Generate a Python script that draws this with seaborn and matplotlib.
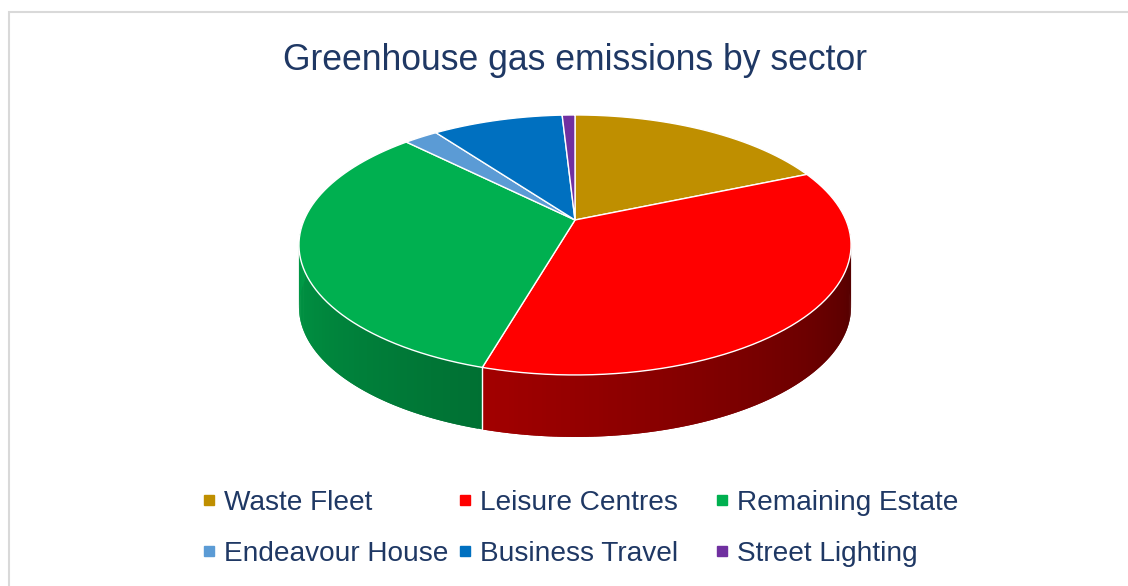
import numpy as np
import matplotlib.pyplot as plt
import seaborn as sns
from matplotlib.collections import PolyCollection
from matplotlib.lines import Line2D
from matplotlib.patches import Rectangle
from matplotlib.path import Path
from matplotlib.transforms import Transform, Affine2D

sectors = ['Waste Fleet', 'Leisure Centres', 'Remaining Estate',
           'Endeavour House', 'Business Travel', 'Street Lighting']
share = [18.6, 35.9, 33.0, 2.4, 9.2, 0.9]
colours = ['#BF8F00', '#FF0000', '#00B050', '#5B9BD5', '#0070C0', '#7030A0']

sns.set_theme(style='white')
plt.rcParams['font.family'] = ['Liberation Sans', 'DejaVu Sans']
navy = '#1F3864'
pal = sns.color_palette(colours)


class Tilt(Transform):
    """Perspective view of the unit disk (pie top seen from above-front)."""
    input_dims = output_dims = 2

    def __init__(self, sx, sy, k):
        super().__init__()
        self.sx, self.sy, self.k = sx, sy, k

    def transform_non_affine(self, xy):
        xy = np.asarray(xy, float).reshape(-1, 2)
        w = 1 + self.k * xy[:, 1]
        return np.column_stack([self.sx * xy[:, 0] / w, self.sy * xy[:, 1] / w])

    def transform_path_non_affine(self, path):
        big = Affine2D().scale(1000).transform_path(path)
        verts = np.vstack(big.to_polygons(closed_only=False)) / 1000
        return Path(self.transform_non_affine(verts))


fig = plt.figure(figsize=(11.28, 5.86), dpi=100)
ax = fig.add_axes([0, 0, 1, 1])
tilt = Tilt(270.9, 125.2, 0.192)
depth = 62

fracs = np.array(share) / sum(share)
bounds = 90 - 360 * np.concatenate([[0], np.cumsum(fracs)])

# side wall, shaded by the direction it faces
polys, faces = [], []
for i, c in enumerate(pal):
    th = np.radians(np.linspace(bounds[i], bounds[i + 1], 160))
    for j in range(len(th) - 1):
        m = np.degrees((th[j] + th[j + 1]) / 2) % 360
        if m < 180:
            continue
        seg = th[j:min(j + 3, len(th))]
        rim = tilt.transform_non_affine(np.column_stack([np.cos(seg), np.sin(seg)]))
        low = rim - [0, depth]
        polys.append(np.vstack([rim, low[::-1]]))
        f = np.clip(0.88 - (m - 180) * 0.0033, 0.33, 1)
        faces.append(tuple(np.array(c) * f))
ax.add_collection(PolyCollection(polys, facecolors=faces, linewidths=0, zorder=1))

for b in np.radians(bounds):
    if np.sin(b) < -0.01:
        x, y = tilt.transform_non_affine([np.cos(b), np.sin(b)])[0]
        ax.plot([x, x], [y, y - depth], color='white', lw=1, zorder=2)

wedges, _ = ax.pie(share, colors=pal, startangle=90, counterclock=False,
                   radius=1, wedgeprops=dict(edgecolor='white', linewidth=1,
                                             zorder=3))
for w in wedges:
    w.set_transform(tilt + ax.transData)

ax.set_aspect('auto')
ax.set_xlim(-575, 553)
ax.set_ylim(-366, 220)
ax.axis('off')

fig.text(575 / 1128, 1 - 60 / 586, 'Greenhouse gas emissions by sector',
         ha='center', va='center', fontsize=25.6, color=navy)

handles = [Line2D([], [], marker='s', ls='', color=c, markersize=7.5)
           for c in pal]
for col, x0 in enumerate([200.75, 456.75, 713.75]):
    fig.legend([handles[col], handles[col + 3]],
               [sectors[col], sectors[col + 3]],
               loc='center left', bbox_to_anchor=(x0 / 1128, 1 - 528.5 / 586),
               frameon=False, fontsize=20.2, labelcolor=navy,
               handlelength=0.6, handletextpad=0.24, labelspacing=0.9,
               borderpad=0, borderaxespad=0)

fig.add_artist(Rectangle((8.5 / 1128, -0.1), 1.2, 1.1 - 12.5 / 586,
                         transform=fig.transFigure, fill=False,
                         edgecolor='#D9D9D9', lw=1.5))

fig.savefig('out.png', dpi=100)
